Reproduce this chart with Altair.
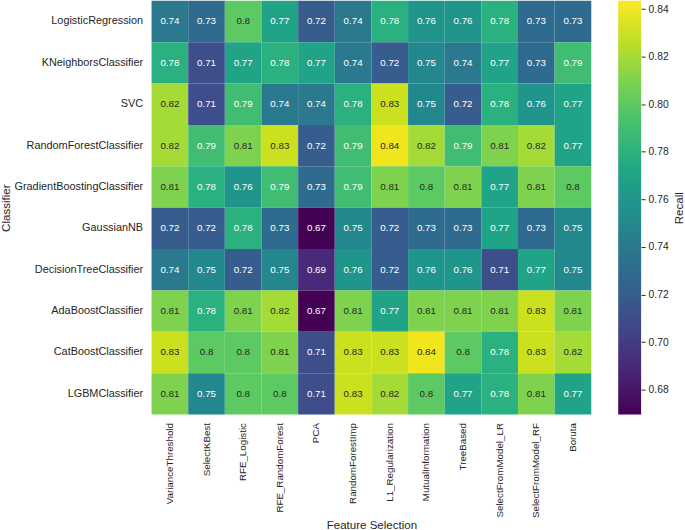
import altair as alt
import pandas as pd

# Classifiers (rows) and feature-selection methods (columns)
classifiers = [
    "LogisticRegression", "KNeighborsClassifier", "SVC", "RandomForestClassifier",
    "GradientBoostingClassifier", "GaussianNB", "DecisionTreeClassifier",
    "AdaBoostClassifier", "CatBoostClassifier", "LGBMClassifier",
]
methods = [
    "VarianceThreshold", "SelectKBest", "RFE_Logistic", "RFE_RandomForest", "PCA",
    "RandomForestImp", "L1_Regularization", "MutualInformation", "TreeBased",
    "SelectFromModel_LR", "SelectFromModel_RF", "Boruta",
]

# Recall per classifier, one value per method (same order as `methods`)
logistic_regression = [0.74, 0.73, 0.80, 0.77, 0.72, 0.74, 0.78, 0.76, 0.76, 0.78, 0.73, 0.73]
kneighbors = [0.78, 0.71, 0.77, 0.78, 0.77, 0.74, 0.72, 0.75, 0.74, 0.77, 0.73, 0.79]
svc = [0.82, 0.71, 0.79, 0.74, 0.74, 0.78, 0.83, 0.75, 0.72, 0.78, 0.76, 0.77]
random_forest = [0.82, 0.79, 0.81, 0.83, 0.72, 0.79, 0.84, 0.82, 0.79, 0.81, 0.82, 0.77]
gradient_boosting = [0.81, 0.78, 0.76, 0.79, 0.73, 0.79, 0.81, 0.80, 0.81, 0.77, 0.81, 0.80]
gaussian_nb = [0.72, 0.72, 0.78, 0.73, 0.67, 0.75, 0.72, 0.73, 0.73, 0.77, 0.73, 0.75]
decision_tree = [0.74, 0.75, 0.72, 0.75, 0.69, 0.76, 0.72, 0.76, 0.76, 0.71, 0.77, 0.75]
adaboost = [0.81, 0.78, 0.81, 0.82, 0.67, 0.81, 0.77, 0.81, 0.81, 0.81, 0.83, 0.81]
catboost = [0.83, 0.80, 0.80, 0.81, 0.71, 0.83, 0.83, 0.84, 0.80, 0.78, 0.83, 0.82]
lgbm = [0.81, 0.75, 0.80, 0.80, 0.71, 0.83, 0.82, 0.80, 0.77, 0.78, 0.81, 0.77]

rows = [logistic_regression, kneighbors, svc, random_forest, gradient_boosting,
        gaussian_nb, decision_tree, adaboost, catboost, lgbm]

# Colorbar ticks
colorbar_ticks = [0.68, 0.70, 0.72, 0.74, 0.76, 0.78, 0.80, 0.82, 0.84]

records = []
for clf, vals in zip(classifiers, rows):
    for m, v in zip(methods, vals):
        records.append({"Classifier": clf, "Feature Selection": m, "Recall": v})
df = pd.DataFrame(records)

recall_min, recall_max = 0.6695, 0.8435
color_scale = alt.Scale(scheme="viridis", domain=[recall_min, recall_max])
band = alt.Scale(paddingInner=0, paddingOuter=0)
FONT = "Liberation Sans"
INK = "#262626"

base = alt.Chart(df).encode(
    x=alt.X("Feature Selection:N", sort=methods, scale=band,
            axis=alt.Axis(labelAngle=-90, ticks=False, domain=False, labelFontSize=9.8,
                          labelPadding=8, titlePadding=2)),
    y=alt.Y("Classifier:N", sort=classifiers, scale=band,
            axis=alt.Axis(ticks=False, domain=False, labelFontSize=10.9,
                          labelPadding=9, titlePadding=3)),
)

cells = base.mark_rect().encode(
    color=alt.Color("Recall:Q", scale=color_scale, legend=None)
)
values = base.mark_text(font=FONT, fontSize=9.8).encode(
    text=alt.Text("Recall:Q", format=".2~f"),
    color=alt.condition(alt.datum.Recall >= 0.795, alt.value(INK), alt.value("#ffffff")),
)
heat = (cells + values).properties(width=441, height=415)

# Colorbar: a single rect spanning the color domain, filled with the viridis ramp
viridis = ["#440154", "#482475", "#414487", "#355f8d", "#2a788e", "#21918c",
           "#22a884", "#44bf70", "#7ad151", "#bddf26", "#fde725"]
ramp = alt.LinearGradient(
    gradient="linear",
    stops=[alt.GradientStop(color=c, offset=i / (len(viridis) - 1)) for i, c in enumerate(viridis)],
    x1=0, x2=0, y1=1, y2=0,
)
bar_df = pd.DataFrame({"lo": [recall_min], "hi": [recall_max]})
colorbar = alt.Chart(bar_df).mark_rect(color=ramp).encode(
    y=alt.Y("lo:Q", scale=alt.Scale(domain=[recall_min, recall_max], nice=False, zero=False),
            axis=alt.Axis(orient="right", values=colorbar_ticks, format=".2f", title="Recall",
                          titleAngle=270, titleBaseline="top", grid=False, domain=False,
                          tickSize=4, tickColor=INK, labelFontSize=10.3, labelPadding=3,
                          titlePadding=5)),
    y2="hi:Q",
    x=alt.value(0),
    x2=alt.value(23),
).properties(width=23, height=415)

chart = alt.hconcat(heat, colorbar, spacing=27).properties(
    padding={"left": 0, "top": 0, "right": 0, "bottom": 0}
).configure_view(stroke=None).configure_axis(
    labelFont=FONT, labelColor=INK,
    titleFont=FONT, titleFontSize=11.6, titleFontWeight="normal", titleColor=INK,
)

chart.save("out.html", embed_options={"renderer": "svg", "actions": False})
